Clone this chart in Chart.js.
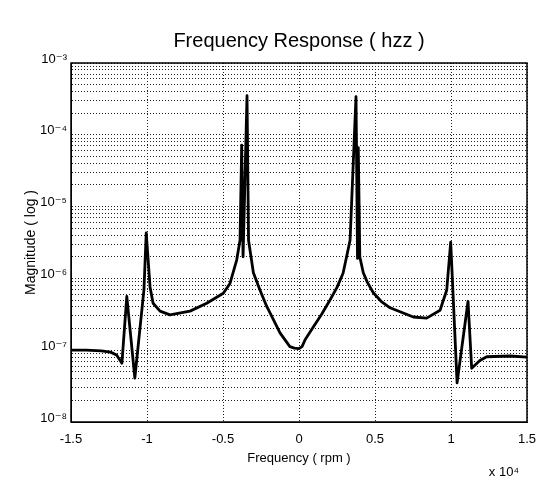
<!DOCTYPE html>
<html>
<head>
<meta charset="utf-8">
<script src="https://cdn.jsdelivr.net/npm/chart.js@4"></script>
<style>
  html, body { margin: 0; padding: 0; background: #fff; }
  #wrap { width: 548px; height: 480px; }
</style>
</head>
<body>
<div id="wrap"><canvas id="myChart" width="548" height="480"></canvas></div>
<script>
// frequency in rpm
const freqRpm = [
  -15000, -14000, -13000, -12400, -12000, -11650, -11330, -10800, -10200, -10050,
  -9800, -9600, -9140, -8490, -7170, -6070, -4980, -4540, -4100, -3880,
  -3770, -3680, -3420, -3320, -3000, -2570, -2130, -1700, -1250, -600,
  -300, 0, 200, 400, 940, 1500, 2040, 2500, 2900, 3360,
  3750, 3850, 3900, 4000, 4230, 4500, 4890, 5400, 5990, 7520,
  8400, 9280, 9720, 9980, 10400, 11120, 11360, 11900, 12350, 13900,
  15000
];
const magnitude = [
  1.0e-7, 1.0e-7, 9.8e-8, 9.4e-8, 8.6e-8, 6.6e-8, 5.6e-7, 4.1e-8, 7.0e-7, 4.3e-6,
  7.6e-7, 4.5e-7, 3.5e-7, 3.1e-7, 3.5e-7, 4.5e-7, 6.2e-7, 8.5e-7, 1.8e-6, 3.4e-6,
  7.2e-5, 2.0e-6, 3.5e-4, 3.4e-6, 1.2e-6, 6.9e-7, 4.1e-7, 2.7e-7, 1.74e-7, 1.12e-7,
  1.07e-7, 1.05e-7, 1.12e-7, 1.4e-7, 2.1e-7, 3.2e-7, 5.0e-7, 7.5e-7, 1.18e-6, 3.4e-6,
  3.4e-4, 1.9e-6, 6.6e-5, 2.0e-6, 1.2e-6, 8.8e-7, 6.3e-7, 4.8e-7, 3.9e-7, 2.9e-7,
  2.8e-7, 3.6e-7, 6.9e-7, 3.2e-6, 3.5e-8, 4.8e-7, 5.6e-8, 7.2e-8, 8.1e-8, 8.3e-8,
  8.0e-8
];

const xTicks = [-15000, -10000, -5000, 0, 5000, 10000, 15000];
const xTickLabels = ["-1.5", "-1", "-0.5", "0", "0.5", "1", "1.5"];
const yMajorTicks = [1e-8, 1e-7, 1e-6, 1e-5, 1e-4, 1e-3];
const yTickLabels = ["10⁻⁸", "10⁻⁷", "10⁻⁶", "10⁻⁵", "10⁻⁴", "10⁻³"];
const chartTitle = "Frequency Response ( hzz )";

const FONT = "'Liberation Sans', Arial, 'DejaVu Sans', sans-serif";
const gridDash = { color: "#000", width: 1, dash: [1, 2] };

// all decade sub-lines 1..9 x 10^n
const yAllTicks = [];
yMajorTicks.forEach((m, i) => {
  if (i === yMajorTicks.length - 1) { yAllTicks.push(m); return; }
  for (let k = 1; k <= 9; k++) yAllTicks.push(+(k * m).toPrecision(3));
});

// frame box, title centred over the plot, and the x10^4 multiplier
const boxPlugin = {
  id: "box",
  afterDraw(chart) {
    const { ctx, chartArea: a } = chart;
    ctx.save();
    ctx.strokeStyle = "#000";
    ctx.lineWidth = 1.5;
    ctx.setLineDash([]);
    ctx.strokeRect(a.left, a.top, a.right - a.left, a.bottom - a.top);
    ctx.fillStyle = "#000";
    ctx.textBaseline = "middle";
    ctx.textAlign = "center";
    ctx.font = "20px " + FONT;
    ctx.fillText(chartTitle, (a.left + a.right) / 2, 41);
    ctx.textAlign = "right";
    ctx.font = "13px " + FONT;
    ctx.fillText("x 10⁴", a.right - 8, 472);
    ctx.restore();
  }
};

const ctx = document.getElementById("myChart").getContext("2d");
const myChart = new Chart(ctx, {
  type: "line",
  data: {
    datasets: [
      {
        label: "hzz",
        data: freqRpm.map((f, i) => ({ x: f, y: magnitude[i] })),
        borderColor: "#000",
        backgroundColor: "transparent",
        borderWidth: 2.8,
        pointRadius: 0,
        tension: 0,
        borderJoinStyle: "round",
      },
    ],
  },
  options: {
    responsive: false,
    animation: false,
    layout: { padding: { left: 0, right: 21, top: 63, bottom: 0 } },
    plugins: {
      legend: { display: false },
      tooltip: { enabled: false },
      title: { display: false },
    },
    scales: {
      x: {
        type: "linear",
        min: -15000,
        max: 15000,
        afterBuildTicks: (s) => { s.ticks = xTicks.map((v) => ({ value: v })); },
        afterFit: (s) => { s.height = 58; },
        ticks: {
          color: "#000",
          font: { family: FONT, size: 13 },
          padding: 10,
          autoSkip: false,
          maxRotation: 0,
          callback: (v) => xTickLabels[xTicks.indexOf(v)],
        },
        grid: { color: "#222", drawTicks: false },
        border: gridDash,
        title: {
          display: true,
          text: "Frequency ( rpm )",
          color: "#000",
          font: { family: FONT, size: 13 },
          padding: { top: 0, bottom: 14 },
        },
      },
      y: {
        type: "logarithmic",
        min: 1e-8,
        max: 1e-3,
        afterBuildTicks: (s) => { s.ticks = yAllTicks.map((v) => ({ value: v })); },
        afterFit: (s) => { s.width = 71; },
        ticks: {
          color: "#000",
          font: { family: FONT, size: 13 },
          padding: 4,
          autoSkip: false,
          labelOffset: -4,
          callback: (v) => {
            const i = yMajorTicks.findIndex((m) => Math.abs(m - v) / m < 1e-6);
            return i >= 0 ? yTickLabels[i] : "";
          },
        },
        grid: { color: "#222", drawTicks: false },
        border: gridDash,
        title: {
          display: true,
          text: "Magnitude ( log )",
          color: "#000",
          font: { family: FONT, size: 14 },
          padding: { top: 23, bottom: 0 },
        },
      },
    },
  },
  plugins: [boxPlugin],
});
</script>
</body>
</html>
